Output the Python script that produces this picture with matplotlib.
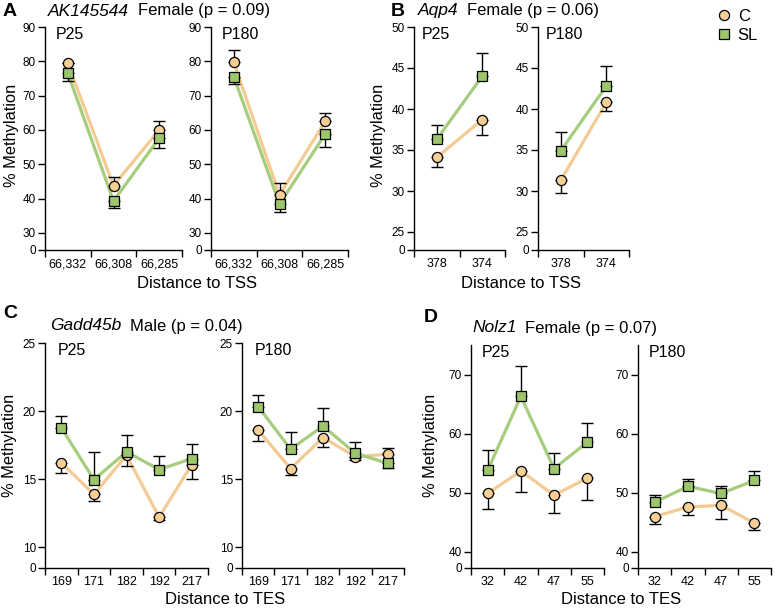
import numpy as np
import matplotlib
matplotlib.use("Agg")
from matplotlib import pyplot as plt
from matplotlib.lines import Line2D

plt.rcParams["font.family"] = ["Liberation Sans", "DejaVu Sans"]

# signed errors: positive = bar drawn upward, negative = bar drawn downward
a_sites = ["66,332", "66,308", "66,285"]
a25_c = [79.4, 43.8, 60.0]
a25_c_err = [0.0, 2.5, 2.7]
a25_sl = [76.5, 39.3, 57.6]
a25_sl_err = [-2.2, -2.1, -2.7]
a180_c = [79.7, 41.1, 62.5]
a180_c_err = [3.6, 3.6, 2.4]
a180_sl = [75.5, 38.4, 58.8]
a180_sl_err = [-2.1, -2.2, -3.7]

b_sites = ["378", "374"]
b25_c = [34.1, 38.7]
b25_c_err = [-1.2, -1.9]
b25_sl = [36.3, 44.0]
b25_sl_err = [1.8, 2.8]
b180_c = [31.3, 40.8]
b180_c_err = [-1.6, -1.1]
b180_sl = [34.9, 42.8]
b180_sl_err = [2.3, 2.4]

c_sites = ["169", "171", "182", "192", "217"]
c25_c = [16.2, 13.87, 16.75, 12.19, 16.06]
c25_c_err = [-0.76, -0.5, -0.79, -0.2, -1.04]
c25_sl = [18.77, 14.95, 17.0, 15.69, 16.5]
c25_sl_err = [0.86, 2.0, 1.23, 0.98, 1.1]
c180_c = [18.6, 15.76, 18.05, 16.64, 16.82]
c180_c_err = [-0.8, -0.49, -0.69, -0.25, 0.44]
c180_sl = [20.32, 17.19, 18.89, 16.89, 16.15]
c180_sl_err = [0.86, 1.28, 1.31, 0.85, -0.36]

d_sites = ["32", "42", "47", "55"]
d25_c = [49.9, 53.7, 49.6, 52.5]
d25_c_err = [-2.7, -3.6, -3.0, -3.7]
d25_sl = [53.8, 66.3, 54.1, 58.6]
d25_sl_err = [3.5, 5.2, 2.7, 3.2]
d180_c = [46.0, 47.6, 47.9, 44.9]
d180_c_err = [-1.2, -1.3, -2.3, -1.2]
d180_sl = [48.4, 51.1, 49.9, 52.1]
d180_sl_err = [1.3, 1.2, 1.3, 1.6]

C_FACE = "#f6cf97"
C_LINE = "#f3cb93"
SL_FACE = "#9cc56c"
SL_LINE = "#a6cd7d"

W, H = 775, 609
fig = plt.figure(figsize=(W / 100, H / 100), dpi=100)


def rect(x0, x1, y0, y1):
    return [x0 / W, 1 - y1 / H, (x1 - x0) / W, (y1 - y0) / H]


def panel(box, sites, c, c_err, sl, sl_err, ylo, yhi, ystep, gap, tag):
    ax = fig.add_axes(rect(*box))
    x = np.arange(len(sites))
    for vals, err, line, face, mk in [(c, c_err, C_LINE, C_FACE, "o"),
                                      (sl, sl_err, SL_LINE, SL_FACE, "s")]:
        err = np.array(err)
        lo = np.where(err < 0, -err, 0)
        hi = np.where(err > 0, err, 0)
        ax.plot(x, vals, color=line, lw=2.3, zorder=1)
        ax.errorbar(x, vals, yerr=[lo, hi], fmt="none", ecolor="black",
                    elinewidth=1.0, capsize=4.5, capthick=1.0, zorder=2)
        ax.plot(x, vals, linestyle="none", marker=mk, ms=7.3, mfc=face,
                mec="black", mew=0.9, zorder=3)
    # broken axis: "0" sits a fixed gap below the lowest tick
    hpx = (box[3] - box[2])
    ybot = ylo - gap * (yhi - ylo) / (hpx - gap)
    ax.set_ylim(ybot, yhi)
    ticks = list(np.arange(ylo, yhi + 1e-6, ystep))
    ax.set_yticks([ybot] + ticks)
    ax.set_yticklabels(["0"] + [f"{t:g}" for t in ticks])
    ax.set_xlim(-0.5, len(sites) - 0.5)
    ax.set_xticks(x)
    ax.set_xticklabels(sites)
    ax.set_xticks(np.arange(len(sites) + 1) - 0.5, minor=True)
    ax.tick_params(axis="x", which="major", length=0, labelsize=9, pad=6)
    ax.tick_params(axis="x", which="minor", length=5, width=1.0, direction="out")
    ax.tick_params(axis="y", length=5, width=1.0, labelsize=8.5, pad=1.5)
    for s in ["top", "right"]:
        ax.spines[s].set_visible(False)
    for s in ["left", "bottom"]:
        ax.spines[s].set_linewidth(1.0)
    ax.text(0.08, 1.0, tag, transform=ax.transAxes, ha="left", va="top", fontsize=11.5)
    return ax


panel((45, 182, 27, 250), a_sites, a25_c, a25_c_err, a25_sl, a25_sl_err, 30, 90, 10, 17, "P25")
panel((211, 348, 27, 250), a_sites, a180_c, a180_c_err, a180_sl, a180_sl_err, 30, 90, 10, 17, "P180")
panel((414, 505, 27, 250), b_sites, b25_c, b25_c_err, b25_sl, b25_sl_err, 25, 50, 5, 18, "P25")
panel((538, 629, 27, 250), b_sites, b180_c, b180_c_err, b180_sl, b180_sl_err, 25, 50, 5, 18, "P180")
panel((45, 208, 343, 568), c_sites, c25_c, c25_c_err, c25_sl, c25_sl_err, 10, 25, 5, 21, "P25")
panel((242, 404, 343, 568), c_sites, c180_c, c180_c_err, c180_sl, c180_sl_err, 10, 25, 5, 21, "P180")
panel((471, 604, 345, 568), d_sites, d25_c, d25_c_err, d25_sl, d25_sl_err, 40, 75, 10, 16, "P25")
panel((638, 771, 345, 568), d_sites, d180_c, d180_c_err, d180_sl, d180_sl_err, 40, 75, 10, 16, "P180")


def ftext(x, y, s, **kw):
    return fig.text(x / W, 1 - y / H, s, **kw)


renderer = fig.canvas.get_renderer()


def title(x, y, gene, rest):
    t = ftext(x, y, gene, fontsize=12.5, style="italic", va="center", ha="left")
    bb = t.get_window_extent(renderer)
    ftext(bb.x1 + 9, y, rest, fontsize=12, va="center", ha="left")


title(48, 11, "AK145544", "Female (p = 0.09)")
title(418, 11, "Aqp4", "Female (p = 0.06)")
title(50, 326, "Gadd45b", "Male (p = 0.04)")
title(472, 328, "Nolz1", "Female (p = 0.07)")

for x, y, s in [(3, 11, "A"), (391, 11, "B"), (3, 314, "C"), (424, 318, "D")]:
    ftext(x, y, s, fontsize=14, fontweight="bold", va="center", ha="left")

for x, y, s in [(197, 283, "Distance to TSS"), (521, 283, "Distance to TSS"),
                (225, 600, "Distance to TES"), (621, 600, "Distance to TES")]:
    ftext(x, y, s, fontsize=12, ha="center", va="center")

for x, y in [(12, 135), (378, 135), (10, 445), (430, 445)]:
    ftext(x, y, "% Methylation", fontsize=11.8, rotation=90, ha="center", va="center")

handles = [Line2D([], [], linestyle="none", marker="o", ms=7.3, mfc=C_FACE, mec="black", mew=0.9),
           Line2D([], [], linestyle="none", marker="s", ms=7.3, mfc=SL_FACE, mec="black", mew=0.9)]
fig.legend(handles, ["C", "SL"], loc="upper left", bbox_to_anchor=(706 / W, 1 + 3 / H),
           frameon=False, fontsize=12, handlelength=0.8, handletextpad=0.4,
           labelspacing=0.25, borderpad=0.2)

fig.savefig("out.png", dpi=100)
